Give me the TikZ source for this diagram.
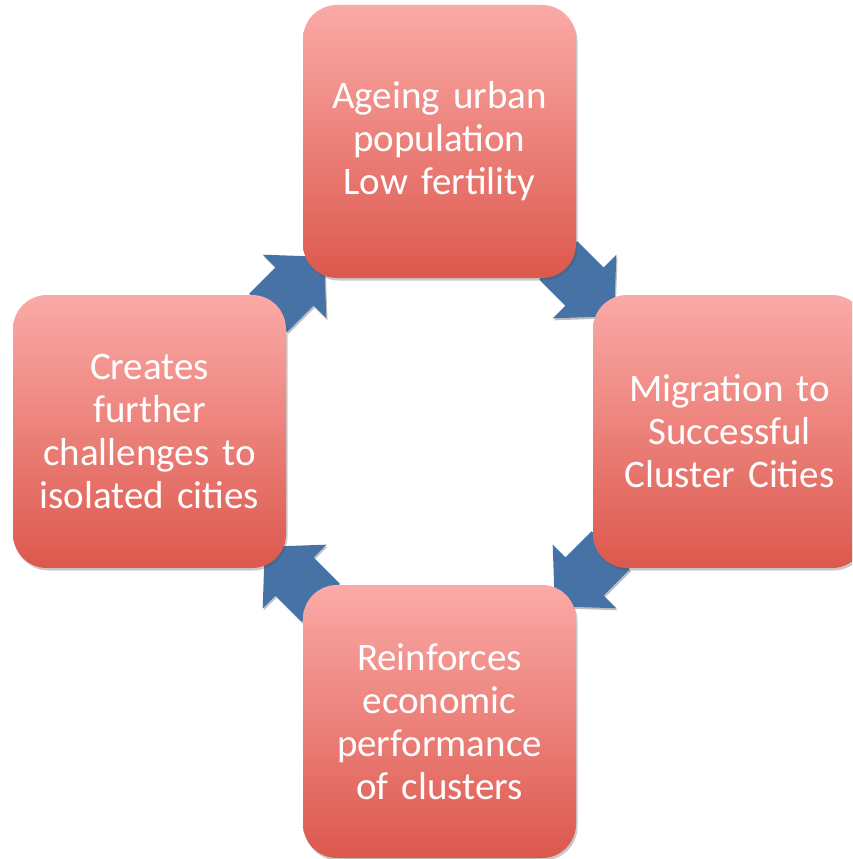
\documentclass[tikz,border=0pt]{standalone}
\usepackage{fontspec}
\setmainfont{Carlito}
\usetikzlibrary{calc,shadows,backgrounds}
\definecolor{boxtop}{RGB}{251,170,167}
\definecolor{boxbot}{RGB}{220,88,77}
\definecolor{arrowblue}{RGB}{70,114,166}
\tikzset{
  cyclebox/.style={rectangle, rounded corners=34pt, minimum width=273pt,
    minimum height=273pt, inner sep=0pt, outer sep=0pt,
    top color=boxtop, bottom color=boxbot, text=white,
    text width=250pt, align=center, font=\fontsize{39}{43}\selectfont,
    drop shadow={shadow xshift=1.5pt, shadow yshift=-2.5pt, opacity=0.3, fill=black!70}},
  arrowshape/.style={fill=arrowblue},
  arrowshadow/.style={fill=black, opacity=0.25}
}
\begin{document}
\begin{tikzpicture}[x=1pt,y=1pt]
\useasboundingbox (0,0) rectangle (852,-859);
\clip (0,0) rectangle (852,-859);
\node[cyclebox] (t) at (439.5,-141.5) {Ageing urban\\population\\Low fertility};
\node[cyclebox] (r) at (729.5,-431.5) {Migration to\\Successful\\Cluster Cities};
\node[cyclebox] (b) at (439.5,-721.5) {Reinforces\\economic\\performance\\of clusters};
\node[cyclebox] (l) at (149.5,-431.5) {Creates\\further\\challenges to\\isolated cities};
\coordinate (m1) at ($(t.south east)!0.5!(r.north west)$);
\coordinate (m2) at ($(r.south west)!0.5!(b.north east)$);
\coordinate (m3) at ($(b.north west)!0.5!(l.south east)$);
\coordinate (m4) at ($(l.north east)!0.5!(t.south west)$);
\begin{scope}[on background layer]
\foreach \m/\a in {m1/-45, m2/-135, m3/135, m4/45} {
  \fill[arrowshadow, shift={(\m)}, xshift=1.2pt, yshift=-2pt, rotate=\a]
    (-37,27) -- (0,27) -- (0,45) -- (42,0) -- (0,-45) -- (0,-27) -- (-37,-27) -- cycle;
  \fill[arrowshape, shift={(\m)}, rotate=\a]
    (-37,27) -- (0,27) -- (0,45) -- (42,0) -- (0,-45) -- (0,-27) -- (-37,-27) -- cycle;
}
\end{scope}
\end{tikzpicture}
\end{document}
